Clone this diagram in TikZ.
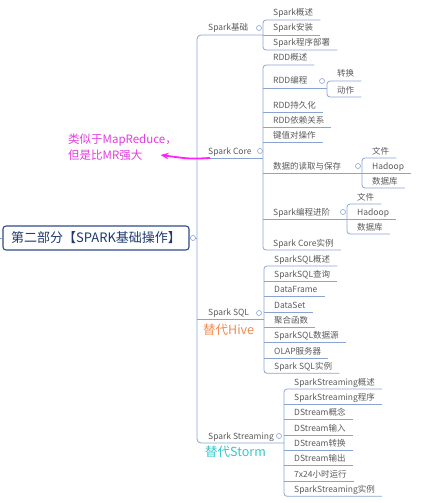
\documentclass[tikz,border=0pt]{standalone}
\usepackage{fontspec}
\setmainfont{Noto Sans CJK SC}
\usetikzlibrary{arrows.meta}
\definecolor{linec}{HTML}{8AA4D2}
\definecolor{txt}{HTML}{5A5A5A}
\definecolor{rootb}{HTML}{2F4C8A}
\definecolor{roott}{HTML}{1F3A70}
\definecolor{magar}{HTML}{FF1FFF}
\definecolor{magtx}{HTML}{E03CDE}
\definecolor{hivec}{HTML}{F08A4E}
\definecolor{stormc}{HTML}{35C6C6}
\begin{document}
\begin{tikzpicture}[x=1pt,y=-1pt,
  conn/.style={draw=linec, line width=0.8pt},
  grp/.style={conn, rounded corners=3pt},
  leaf/.style={anchor=south west, inner xsep=0pt, inner ysep=2.2pt,
    text height=6.5pt, text depth=1.6pt, font=\fontsize{8.5}{10}\selectfont, text=txt,
    execute at begin node={\hspace*{10pt}}, execute at end node={\hspace*{7pt}}},
  topic/.style={anchor=south west, inner xsep=0pt, inner ysep=2.2pt,
    text height=6.5pt, text depth=1.6pt, font=\fontsize{8.5}{10}\selectfont, text=txt,
    execute at begin node={\hspace*{11pt}}},
  toggle/.style={circle, draw=linec, fill=white, line width=0.6pt, inner sep=0pt, minimum size=5pt},
  rootbox/.style={draw=rootb, line width=1.1pt, rounded corners=3pt, fill=white,
    minimum width=186pt, minimum height=24pt, inner sep=0pt, text=roott,
    font=\fontsize{13}{15}\selectfont},
  annot/.style={anchor=west, inner xsep=2pt, inner ysep=0pt, text=magtx, font=\fontsize{11.5}{14}\selectfont},
  pinkarr/.style={draw=magar, line width=1.8pt, -{Stealth[length=8pt,width=6.5pt]}},
  note/.style={anchor=west, inner sep=0pt, font=\fontsize{12.5}{14}\selectfont}
]
\useasboundingbox (0,0) rectangle (421,503);

% root
\node[rootbox] (root) at (96,238) {第二部分【SPARK基础操作】};
\coordinate (stub) at (0,238);
\coordinate (t0) at (197,238);
\draw[conn] (stub) -- (root.west);
\draw[conn] (root.east) -- (t0);
\node[toggle] (k0) at (193,238) {};

% level 1
\node[topic] (p1) at (197,35) {Spark基础};
\node[topic] (p2) at (197,158) {Spark Core};
\node[topic] (p3) at (197,319) {Spark SQL};
\node[topic] (p4) at (197,443) {Spark Streaming};
\coordinate (j1) at (263,35);
\coordinate (j2) at (263,158);
\coordinate (j3) at (264,319);
\coordinate (j4) at (284,443);
\draw[conn, rounded corners=4pt] (j1) -- (p1.south west) -- (p4.south west) -- (j4);
\draw[conn] (p2.south west) -- (j2);
\draw[conn] (p3.south west) -- (j3);
\node[toggle] (k1) at (259,28) {};
\node[toggle] (k2) at (260,151) {};
\node[toggle] (k3) at (259,313) {};
\node[toggle] (k4) at (279,436) {};

% Spark基础
\node[leaf] (a1) at (263,20) {Spark概述};
\node[leaf] (a2) at (263,35) {Spark安装};
\node[leaf] (a3) at (263,50) {Spark程序部署};
\draw[grp] (a1.south east) -- (a1.south west) -- (a3.south west) -- (a3.south east);
\draw[conn] (a2.south west) -- (a2.south east);

% Spark Core
\node[leaf] (b1) at (263,65) {RDD概述};
\node[leaf] (b2) at (263,88) {RDD编程};
\node[leaf] (b3) at (263,112) {RDD持久化};
\node[leaf] (b4) at (263,127) {RDD依赖关系};
\node[leaf] (b5) at (263,142) {键值对操作};
\node[leaf] (b6) at (263,173) {数据的读取与保存};
\node[leaf] (b7) at (263,219) {Spark编程进阶};
\node[leaf] (b8) at (263,250) {Spark Core实例};
\draw[grp] (b1.south east) -- (b1.south west) -- (b8.south west) -- (b8.south east);
\foreach \n in {b3,b4,b5} \draw[conn] (\n.south west) -- (\n.south east);
\coordinate (jb2) at (327,88);
\coordinate (jb6) at (362,173);
\coordinate (jb7) at (347,219);
\draw[conn] (b2.south west) -- (jb2);
\draw[conn] (b6.south west) -- (jb6);
\draw[conn] (b7.south west) -- (jb7);

\node[leaf] (g1) at (327,81) {转换};
\node[leaf] (g2) at (327,97) {动作};
\draw[grp] (g1.south east) -- (g1.south west) -- (g2.south west) -- (g2.south east);
\node[toggle] (kb2) at (322,81) {};

\node[leaf] (f1) at (362,158) {文件};
\node[leaf] (f2) at (362,173) {Hadoop};
\node[leaf] (f3) at (362,188) {数据库};
\draw[grp] (f1.south east) -- (f1.south west) -- (f3.south west) -- (f3.south east);
\draw[conn] (f2.south west) -- (f2.south east);
\node[toggle] (kb6) at (358,166) {};

\node[leaf] (h1) at (347,204) {文件};
\node[leaf] (h2) at (347,219) {Hadoop};
\node[leaf] (h3) at (347,234) {数据库};
\draw[grp] (h1.south east) -- (h1.south west) -- (h3.south west) -- (h3.south east);
\draw[conn] (h2.south west) -- (h2.south east);
\node[toggle] (kb7) at (343,212) {};

% Spark SQL
\node[leaf] (s1) at (264,266) {SparkSQL概述};
\node[leaf] (s2) at (264,281.3) {SparkSQL查询};
\node[leaf] (s3) at (264,296.6) {DataFrame};
\node[leaf] (s4) at (264,312) {DataSet};
\node[leaf] (s5) at (264,327.3) {聚合函数};
\node[leaf] (s6) at (264,342.6) {SparkSQL数据源};
\node[leaf] (s7) at (264,358) {OLAP服务器};
\node[leaf] (s8) at (264,373.3) {Spark SQL实例};
\draw[grp] (s1.south east) -- (s1.south west) -- (s8.south west) -- (s8.south east);
\foreach \n in {s2,s3,s4,s5,s6,s7} \draw[conn] (\n.south west) -- (\n.south east);

% Spark Streaming
\node[leaf] (r1) at (284,389) {SparkStreaming概述};
\node[leaf] (r2) at (284,404.3) {SparkStreaming程序};
\node[leaf] (r3) at (284,419.6) {DStream概念};
\node[leaf] (r4) at (284,435) {DStream输入};
\node[leaf] (r5) at (284,450.3) {DStream转换};
\node[leaf] (r6) at (284,465.6) {DStream输出};
\node[leaf] (r7) at (284,481) {7x24小时运行};
\node[leaf] (r8) at (284,496.3) {SparkStreaming实例};
\draw[grp] (r1.south east) -- (r1.south west) -- (r8.south west) -- (r8.south east);
\foreach \n in {r2,r3,r4,r5,r6,r7} \draw[conn] (\n.south west) -- (\n.south east);

% notes
\node[note, text=hivec] (hive) at (203,330) {替代Hive};
\node[note, text=stormc] (storm) at (205,452) {替代Storm};

\node[annot] (ann1) at (66,140) {类似于MapReduce，};
\node[annot] (ann2) at (66,155) {但是比MR强大};
\coordinate (atail) at (210,158);
\draw[pinkarr] (atail) .. controls (190,159) .. ([xshift=16pt]ann2.east);
\end{tikzpicture}
\end{document}
